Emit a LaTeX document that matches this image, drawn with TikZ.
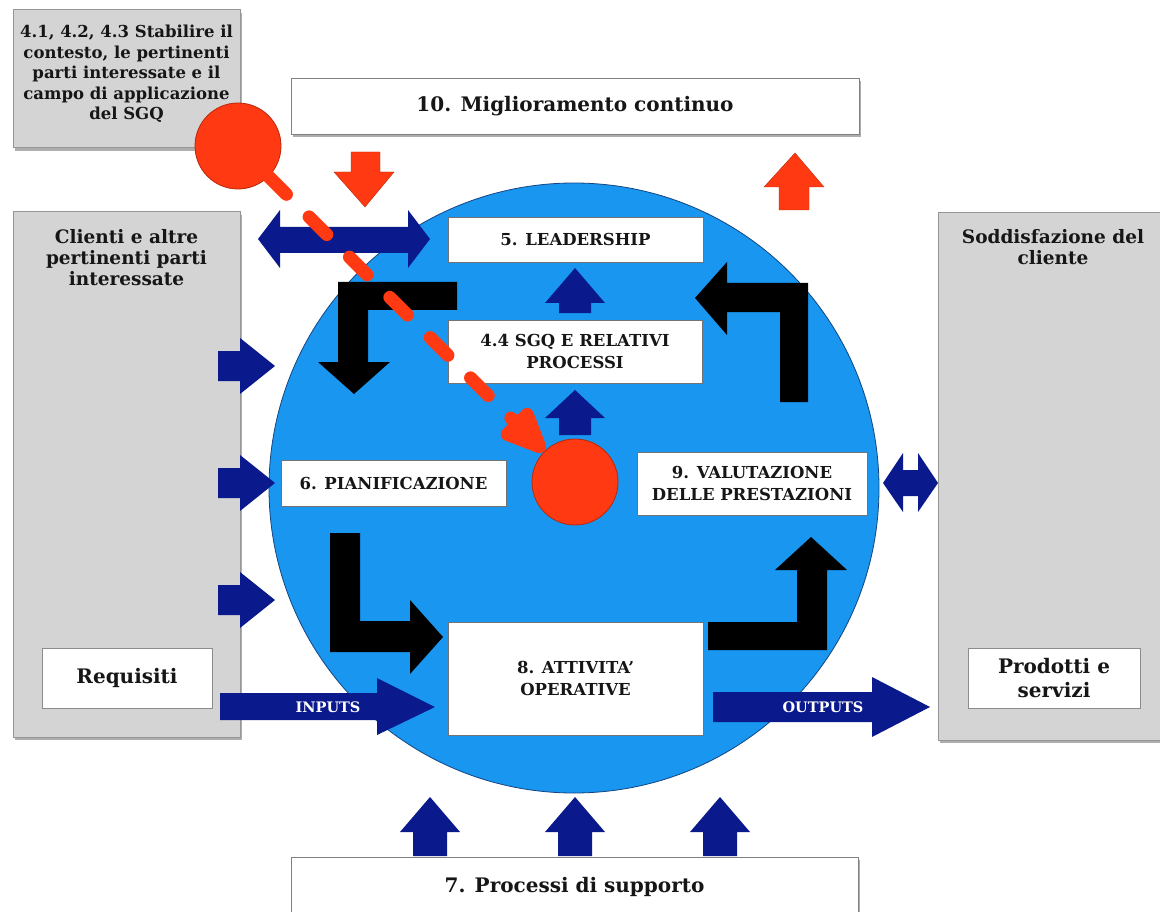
\documentclass[tikz,border=0pt]{standalone}
\usepackage{fontspec}
\setmainfont{DejaVu Serif}
\usetikzlibrary{shadows,arrows.meta}

\definecolor{panelgray}{RGB}{212,212,212}
\definecolor{paneledge}{RGB}{150,150,150}
\definecolor{discblue}{RGB}{24,150,240}
\definecolor{discedge}{RGB}{20,70,130}
\definecolor{navy}{RGB}{10,26,140}
\definecolor{signalred}{RGB}{255,58,18}
\definecolor{signaledge}{RGB}{185,40,10}
\definecolor{inktext}{RGB}{22,22,22}

\tikzset{
  softshadow/.style={drop shadow={shadow xshift=2pt,shadow yshift=-3pt,opacity=0.45,fill=black!70}},
  graypanel/.style={draw=paneledge,line width=1pt,fill=panelgray,inner sep=0pt,softshadow},
  whitebox/.style={draw=black!55,line width=0.6pt,fill=white,inner sep=0pt,align=center,
    text=inktext,font=\bfseries\fontsize{16.5}{22}\selectfont},
  bannerbox/.style={whitebox,draw=black!50,softshadow,font=\bfseries\fontsize{20}{24}\selectfont},
  panellabel/.style={align=center,text=inktext,inner sep=0pt,font=\bfseries\fontsize{18.5}{21}\selectfont},
  tagbox/.style={whitebox,draw=black!45,font=\bfseries\fontsize{20}{24}\selectfont},
  flowlabel/.style={text=white,inner sep=0pt,font=\bfseries\fontsize{14.5}{16}\selectfont},
  bigdisc/.style={circle,draw=discedge,line width=0.8pt,fill=discblue,inner sep=0pt},
  redball/.style={circle,draw=signaledge,line width=0.8pt,fill=signalred,inner sep=0pt,minimum size=86pt},
  navyfill/.style={fill=navy},
  blackfill/.style={fill=black},
  redfill/.style={fill=signalred,draw=signaledge,line width=0.4pt},
  redlink/.style={draw=signalred,line width=13pt,line cap=round,dash pattern=on 25pt off 32pt,
    -{Triangle[length=56pt,width=44pt,fill=signalred,round=false]}},
}

\begin{document}
\begin{tikzpicture}[x=1pt,y=-1pt]
\useasboundingbox (0,0) rectangle (1160,912);
\fill[white] (0,0) rectangle (1160,912);

% side panels
\node[graypanel,minimum width=227pt,minimum height=525pt] (clients) at (126.5,474.5) {};
\node[panellabel,anchor=north] (clientstxt) at (126.5,229) {Clienti e altre\\pertinenti parti\\interessate};
\node[graypanel,minimum width=232pt,minimum height=527pt] (satisf) at (1054,476.5) {};
\node[panellabel,anchor=north] (satisftxt) at (1053,229) {Soddisfazione del\\cliente};

% context panel
\node[graypanel,minimum width=227pt,minimum height=138pt] (context) at (126.5,79) {};
\node[panellabel,font=\bfseries\fontsize{16.5}{20.5}\selectfont] (contexttxt) at (126.5,74)
  {4.1, 4.2, 4.3 Stabilire il\\contesto, le pertinenti\\parti interessate e il\\campo di applicazione\\del SGQ};

% banners
\node[bannerbox,minimum width=568pt,minimum height=56pt] (improve) at (575,106) {10. Miglioramento continuo};
\node[bannerbox,minimum width=567pt,minimum height=60pt] (support) at (574.5,887) {7. Processi di supporto};

% the central disc
\node[bigdisc,minimum size=610pt] (qms) at (574,488) {};

% boxes inside the disc
\node[whitebox,minimum width=255pt,minimum height=45pt] (lead) at (575.5,239.5) {5. LEADERSHIP};
\node[whitebox,minimum width=254pt,minimum height=63pt] (sgq) at (575,351.5) {4.4 SGQ E RELATIVI\\PROCESSI};
\node[whitebox,minimum width=225pt,minimum height=46pt] (plan) at (393.5,483) {6. PIANIFICAZIONE};
\node[whitebox,minimum width=230pt,minimum height=63pt] (eval) at (752,483.5) {9. VALUTAZIONE\\DELLE PRESTAZIONI};
\node[whitebox,minimum width=255pt,minimum height=113pt] (ops) at (575.5,678.5) {8. ATTIVITA'\\OPERATIVE};

% requirement and output tags
\node[tagbox,minimum width=170pt,minimum height=60pt] (req) at (127,678) {Requisiti};
\node[tagbox,minimum width=172pt,minimum height=60pt] (prod) at (1054,678) {Prodotti e\\servizi};

% black elbow arrows of the PDCA cycle
\fill[blackfill] (457,282) -- (338,282) -- (338,362) -- (318,362) -- (354,394) -- (390,362)
  -- (368,362) -- (368,310) -- (457,310) -- cycle;
\fill[blackfill] (808,402) -- (808,283) -- (727,283) -- (727,262) -- (695,298) -- (727,335)
  -- (727,312) -- (780,312) -- (780,402) -- cycle;
\fill[blackfill] (330,533) -- (360,533) -- (360,621) -- (410,621) -- (410,600) -- (443,637)
  -- (410,674) -- (410,652) -- (330,652) -- cycle;
\fill[blackfill] (708,650) -- (827,650) -- (827,570) -- (847,570) -- (811,537) -- (775,570)
  -- (797,570) -- (797,622) -- (708,622) -- cycle;

% navy arrows inside the disc
\fill[navyfill] (575,268) -- (605,303) -- (591,303) -- (591,313) -- (559,313) -- (559,303) -- (545,303) -- cycle;
\fill[navyfill] (575,390) -- (605,418) -- (591,418) -- (591,435) -- (559,435) -- (559,418) -- (545,418) -- cycle;

% arrows from the client panel
\foreach \ty in {366,483,600}
  \fill[navyfill] (218,\ty-15) -- (240,\ty-15) -- (240,\ty-28) -- (275,\ty) -- (240,\ty+28)
    -- (240,\ty+15) -- (218,\ty+15) -- cycle;

% two-way exchange with leadership
\fill[navyfill] (258,239) -- (280,210) -- (280,227) -- (408,227) -- (408,210) -- (430,239)
  -- (408,268) -- (408,253) -- (280,253) -- (280,268) -- cycle;

% two-way exchange with customer satisfaction
\fill[navyfill] (883,483) -- (903,453) -- (903,470) -- (918,470) -- (918,453) -- (938,483)
  -- (918,512) -- (918,496) -- (903,496) -- (903,512) -- cycle;

% inputs and outputs
\fill[navyfill] (220,693) -- (377,693) -- (377,678) -- (435,707) -- (377,735) -- (377,720) -- (220,720) -- cycle;
\node[flowlabel] (intxt) at (328,707) {INPUTS};
\fill[navyfill] (713,692) -- (872,692) -- (872,677) -- (930,707) -- (872,737) -- (872,722) -- (713,722) -- cycle;
\node[flowlabel] (outtxt) at (823,707) {OUTPUTS};

% support arrows
\foreach \cx in {430,575,720}
  \fill[navyfill] (\cx,797) -- (\cx+30,832) -- (\cx+17,832) -- (\cx+17,856) -- (\cx-17,856)
    -- (\cx-17,832) -- (\cx-30,832) -- cycle;

% improvement arrows
\fill[redfill] (351,152) -- (380,152) -- (380,172) -- (394,172) -- (365,207) -- (334,172) -- (351,172) -- cycle;
\fill[redfill] (795,153) -- (824,187) -- (809,187) -- (809,210) -- (779,210) -- (779,187) -- (764,187) -- cycle;

% context pin linked to the management system
\node[redball] (pin) at (238,146) {};
\node[redball] (core) at (575,482) {};
\draw[redlink] (pin) -- (core);

\end{tikzpicture}
\end{document}
